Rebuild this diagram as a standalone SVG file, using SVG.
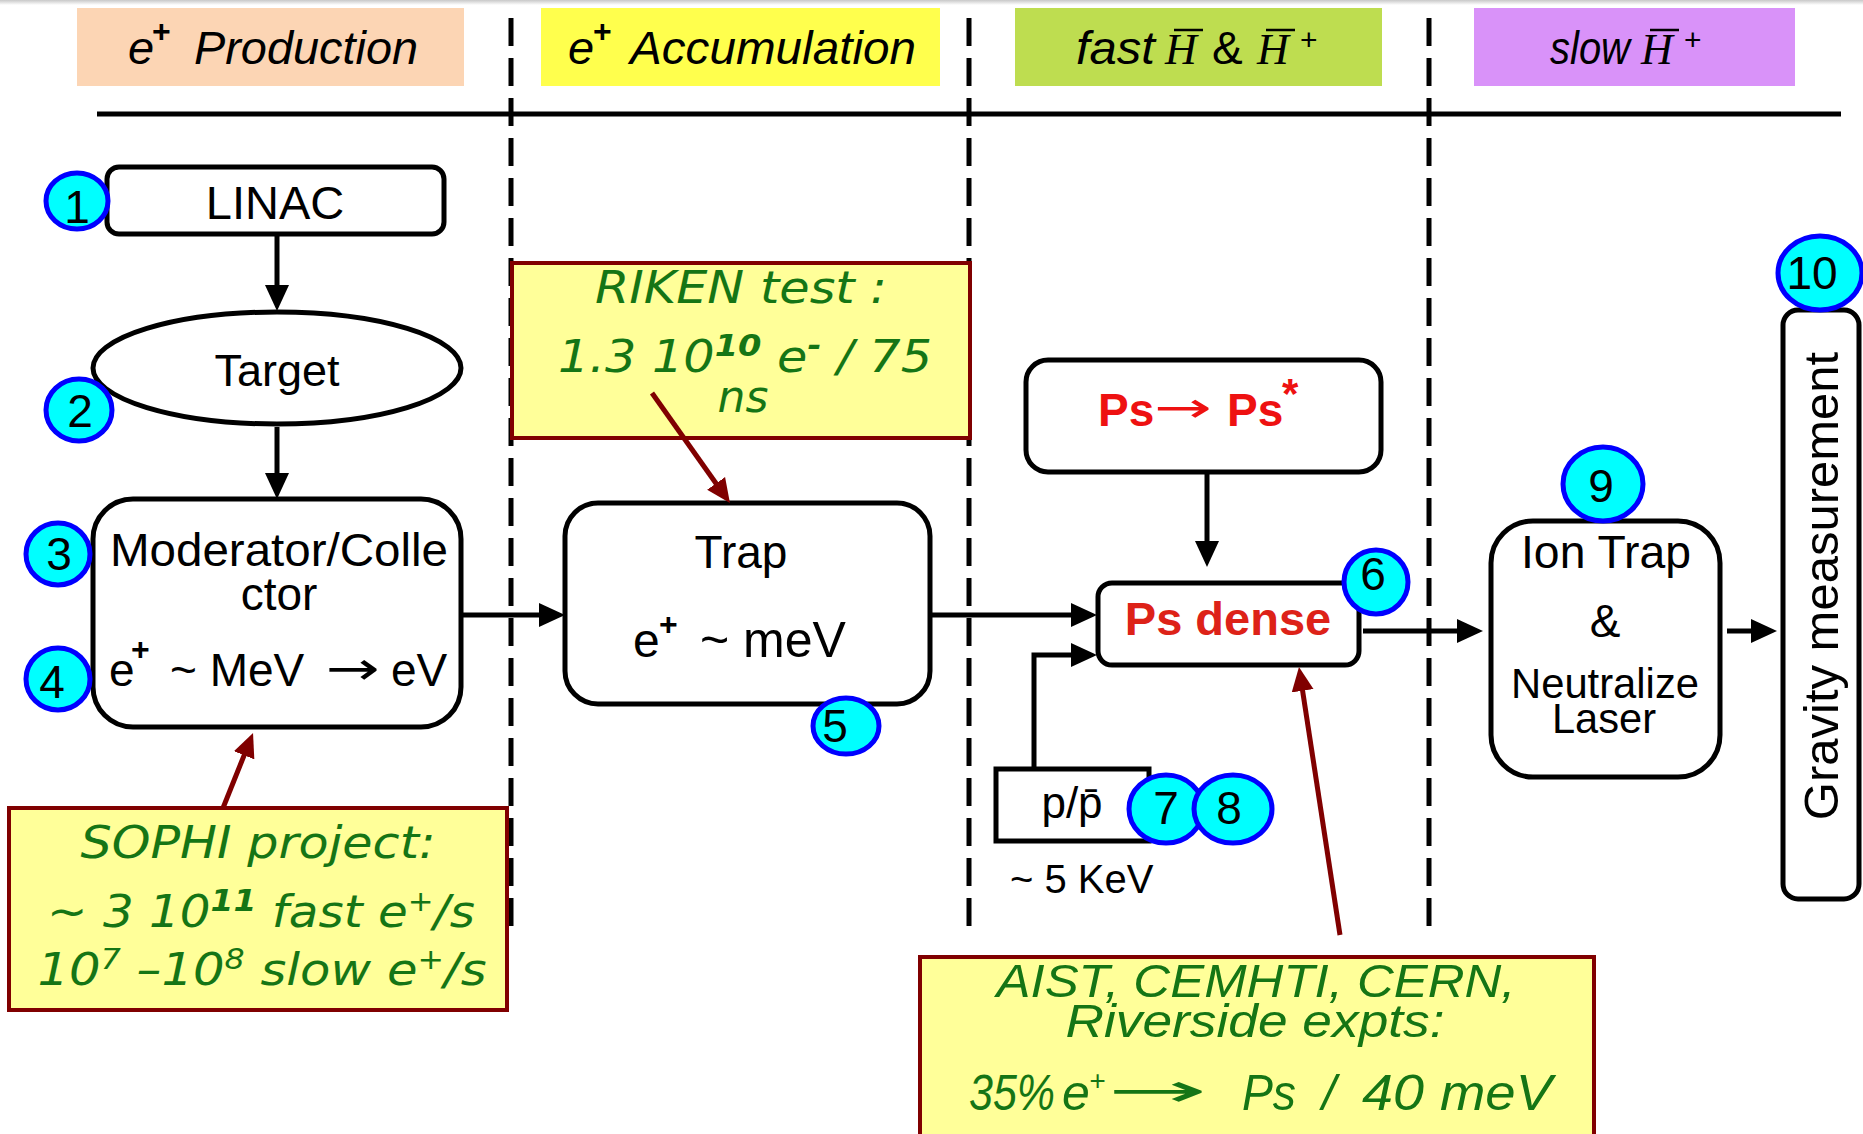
<svg xmlns="http://www.w3.org/2000/svg" width="1863" height="1134" viewBox="0 0 1863 1134">
<style>
  text { font-family: "Liberation Sans", Arial, sans-serif; fill: #000; }
  .box { fill: #fff; stroke: #000; stroke-width: 5; }
  .note { fill: #FFFF99; stroke: #800000; stroke-width: 4; }
  .badge { fill: #00FFFF; stroke: #0000FF; stroke-width: 5; }
  .num { text-anchor: middle; }
  .lbl { text-anchor: middle; }
  .hdr { font-style: italic; }
  .serif { font-family: "Liberation Serif", "Times New Roman", serif; font-style: italic; }
  .green { fill: #157515; font-family: "DejaVu Sans", Verdana, sans-serif; font-style: oblique; text-anchor: middle; }
  .greenA { fill: #157515; font-style: italic; }
  .red { fill: #EE1111; font-weight: bold; }
  .arrow { font-family: "DejaVu Sans", sans-serif; font-style: normal; font-weight: normal; }
  .conn { stroke: #000; stroke-width: 5; fill: none; }
  .rconn { stroke: #800000; stroke-width: 5; fill: none; }
  .dash { stroke: #000; stroke-width: 5; stroke-dasharray: 28 12; }
  .sup { font-weight: bold; }
</style>
<defs>
  <marker id="ah" markerUnits="userSpaceOnUse" markerWidth="26" markerHeight="24" viewBox="0 0 26 24" refX="4" refY="12" orient="auto">
    <path d="M0,0 L26,12 L0,24 z" fill="#000"/>
  </marker>
  <marker id="ahr" markerUnits="userSpaceOnUse" markerWidth="24" markerHeight="24" viewBox="0 0 24 24" refX="4" refY="12" orient="auto">
    <path d="M0,1 L24,12 L0,23 z" fill="#800000"/>
  </marker>
  <linearGradient id="topg" x1="0" y1="0" x2="0" y2="1">
    <stop offset="0" stop-color="#c8c8c8"/>
    <stop offset="1" stop-color="#ffffff"/>
  </linearGradient>
</defs>
<rect x="0" y="0" width="1863" height="1134" fill="#fff"/>
<rect x="0" y="0" width="1863" height="5" fill="url(#topg)"/>

<!-- header -->
<g id="headers">
  <rect x="77" y="8" width="387" height="78" fill="#FCD5B4"/>
  <rect x="541" y="8" width="399" height="78" fill="#FFFF4D"/>
  <rect x="1015" y="8" width="367" height="78" fill="#BEDD50"/>
  <rect x="1474" y="8" width="321" height="78" fill="#D992F9"/>
  <text class="hdr" x="128" y="64" font-size="47">e</text>
  <text class="sup" x="152" y="42" font-size="32">+</text>
  <text class="hdr" x="194" y="64" font-size="47" textLength="224" lengthAdjust="spacingAndGlyphs">Production</text>
  <text class="hdr" x="568" y="64" font-size="47">e</text>
  <text class="sup" x="593" y="42" font-size="32">+</text>
  <text class="hdr" x="630" y="64" font-size="47" textLength="286" lengthAdjust="spacingAndGlyphs">Accumulation</text>
  <text class="hdr" x="1076" y="64" font-size="47" textLength="79" lengthAdjust="spacingAndGlyphs">fast</text>
  <text class="serif" x="1165" y="64" font-size="44">H</text>
  <text x="1212" y="64" font-size="46">&amp;</text>
  <text class="serif" x="1257" y="64" font-size="44">H</text>
  <text x="1300" y="50" font-size="30">+</text>
  <text class="hdr" x="1550" y="64" font-size="47" textLength="80" lengthAdjust="spacingAndGlyphs">slow</text>
  <text class="serif" x="1641" y="64" font-size="44">H</text>
  <text x="1684" y="50" font-size="30">+</text>
  <g stroke="#000" stroke-width="2.5">
    <line x1="1174" y1="30" x2="1203" y2="30"/>
    <line x1="1266" y1="30" x2="1295" y2="30"/>
    <line x1="1650" y1="30" x2="1679" y2="30"/>
  </g>
  <line x1="97" y1="114" x2="1841" y2="114" stroke="#000" stroke-width="5"/>
</g>

<g id="separators">
  <line class="dash" x1="511" y1="18" x2="511" y2="927"/>
  <line class="dash" x1="969" y1="18" x2="969" y2="927"/>
  <line class="dash" x1="1429" y1="18" x2="1429" y2="927"/>
</g>

<g id="linac">
  <rect class="box" x="107" y="167" width="337" height="67" rx="12"/>
  <text class="lbl" x="275" y="219" font-size="47">LINAC</text>
</g>
<g id="target">
  <ellipse class="box" cx="277" cy="368" rx="184" ry="56"/>
  <text class="lbl" x="277" y="386" font-size="45">Target</text>
</g>
<g id="moderator">
  <rect class="box" x="93" y="499" width="368" height="228" rx="40"/>
  <text class="lbl" x="279" y="566" font-size="46" textLength="338" lengthAdjust="spacingAndGlyphs">Moderator/Colle</text>
  <text class="lbl" x="279" y="610" font-size="46">ctor</text>
  <text x="109" y="686" font-size="46">e</text>
  <text class="sup" x="131" y="660" font-size="32">+</text>
  <text x="170" y="686" font-size="46">~ MeV</text>
  <text class="arrow" x="326" y="684" font-size="46" textLength="54" lengthAdjust="spacingAndGlyphs">→</text>
  <text x="391" y="686" font-size="46">eV</text>
</g>
<g id="trap">
  <rect class="box" x="565" y="503" width="365" height="201" rx="33"/>
  <text class="lbl" x="741" y="568" font-size="46">Trap</text>
  <text x="633" y="657" font-size="48">e</text>
  <text class="sup" x="659" y="635" font-size="32">+</text>
  <text x="700" y="657" font-size="50">~ meV</text>
</g>
<g id="ps-excite">
  <rect class="box" x="1026" y="360" width="355" height="112" rx="22"/>
  <text class="red" x="1098" y="426" font-size="46">Ps</text>
  <text class="arrow" x="1154" y="422" font-size="42" style="fill:#EE1111" textLength="58" lengthAdjust="spacingAndGlyphs">→</text>
  <text class="red" x="1227" y="426" font-size="46">Ps</text>
  <text class="red" x="1282" y="408" font-size="42">*</text>
</g>
<g id="ps-dense">
  <rect class="box" x="1098" y="583" width="261" height="82" rx="14"/>
  <text class="lbl red" x="1228" y="635" font-size="47" style="fill:#DD2218">Ps dense</text>
</g>
<g id="pbar">
  <rect x="996" y="769" width="153" height="72" fill="#fff" stroke="#000" stroke-width="5"/>
  <text class="lbl" x="1072" y="818" font-size="44">p/p̄</text>
  <text x="1010" y="893" font-size="40">~ 5 KeV</text>
</g>
<g id="iontrap">
  <rect class="box" x="1491" y="521" width="229" height="256" rx="42"/>
  <text class="lbl" x="1606" y="568" font-size="46" textLength="170" lengthAdjust="spacingAndGlyphs">Ion Trap</text>
  <text class="lbl" x="1605" y="637" font-size="46">&amp;</text>
  <text class="lbl" x="1605" y="698" font-size="42" textLength="188" lengthAdjust="spacingAndGlyphs">Neutralize</text>
  <text class="lbl" x="1604" y="733" font-size="42" textLength="104" lengthAdjust="spacingAndGlyphs">Laser</text>
</g>
<g id="gravity">
  <rect class="box" x="1783" y="310" width="76" height="589" rx="15"/>
  <text class="lbl" transform="translate(1838,586) rotate(-90)" x="0" y="0" font-size="49">Gravity measurement</text>
</g>

<g id="note-sophi">
  <rect class="note" x="9" y="808" width="498" height="202"/>
  <text class="green" x="258" y="858" font-size="44" textLength="355" lengthAdjust="spacingAndGlyphs">SOPHI project:</text>
  <text class="green" x="261" y="927" font-size="44" textLength="428" lengthAdjust="spacingAndGlyphs">~ 3 10<tspan class="sup" font-size="30" dy="-16">11</tspan><tspan dy="16"> fast e</tspan><tspan font-size="28" dy="-16">+</tspan><tspan dy="16">/s</tspan></text>
  <text class="green" x="262" y="985" font-size="44" textLength="449" lengthAdjust="spacingAndGlyphs">10<tspan font-size="28" dy="-16">7</tspan><tspan dy="16"> –10</tspan><tspan font-size="28" dy="-16">8</tspan><tspan dy="16"> slow e</tspan><tspan font-size="28" dy="-16">+</tspan><tspan dy="16">/s</tspan></text>
</g>
<g id="note-riken">
  <rect class="note" x="512" y="263" width="458" height="175"/>
  <text class="green" x="741" y="303" font-size="44" textLength="292" lengthAdjust="spacingAndGlyphs">RIKEN test :</text>
  <text class="green" x="745" y="372" font-size="44" textLength="374" lengthAdjust="spacingAndGlyphs">1.3 10<tspan class="sup" font-size="30" dy="-16">10</tspan><tspan dy="16"> e</tspan><tspan class="sup" font-size="30" dy="-16">-</tspan><tspan dy="16"> / 75</tspan></text>
  <text class="green" x="743" y="412" font-size="44">ns</text>
</g>
<g id="note-aist">
  <rect class="note" x="920" y="957" width="674" height="185"/>
  <text class="greenA" x="1256" y="997" font-size="46" text-anchor="middle" textLength="519" lengthAdjust="spacingAndGlyphs">AIST, CEMHTI, CERN,</text>
  <text class="greenA" x="1255" y="1037" font-size="46" text-anchor="middle" textLength="379" lengthAdjust="spacingAndGlyphs">Riverside expts:</text>
  <text class="greenA" x="969" y="1110" font-size="50" textLength="86" lengthAdjust="spacingAndGlyphs">35%</text>
  <text class="greenA" x="1062" y="1110" font-size="50">e</text>
  <text class="greenA" x="1089" y="1090" font-size="28">+</text>
  <text class="arrow" x="1108" y="1106" font-size="46" style="fill:#157515" textLength="100" lengthAdjust="spacingAndGlyphs">→</text>
  <text class="greenA" x="1242" y="1110" font-size="50" textLength="54" lengthAdjust="spacingAndGlyphs">Ps</text>
  <text class="greenA" x="1322" y="1110" font-size="50">/</text>
  <text class="greenA" x="1362" y="1110" font-size="50" textLength="62" lengthAdjust="spacingAndGlyphs">40</text>
  <text class="greenA" x="1440" y="1110" font-size="50" textLength="112" lengthAdjust="spacingAndGlyphs">meV</text>
</g>

<g id="connectors">
  <line class="conn" x1="277" y1="234" x2="277" y2="289" marker-end="url(#ah)"/>
  <line class="conn" x1="277" y1="427" x2="277" y2="477" marker-end="url(#ah)"/>
  <line class="conn" x1="461" y1="615" x2="543" y2="615" marker-end="url(#ah)"/>
  <line class="conn" x1="930" y1="615" x2="1075" y2="615" marker-end="url(#ah)"/>
  <line class="conn" x1="1207" y1="472" x2="1207" y2="545" marker-end="url(#ah)"/>
  <path class="conn" d="M1034,769 V655 H1075" marker-end="url(#ah)"/>
  <line class="conn" x1="1363" y1="631" x2="1461" y2="631" marker-end="url(#ah)"/>
  <line class="conn" x1="1727" y1="631" x2="1755" y2="631" marker-end="url(#ah)"/>
  <line class="rconn" x1="223" y1="808" x2="245.6" y2="751.6" marker-end="url(#ahr)"/>
  <line class="rconn" x1="652" y1="393" x2="718.4" y2="486.7" marker-end="url(#ahr)"/>
  <line class="rconn" x1="1340" y1="935" x2="1302" y2="686.8" marker-end="url(#ahr)"/>
</g>

<g id="badges">
  <ellipse class="badge" cx="77" cy="201" rx="31" ry="28"/><text class="num" x="77" y="223" font-size="46">1</text>
  <ellipse class="badge" cx="79" cy="410" rx="33" ry="31"/><text class="num" x="80" y="427" font-size="46">2</text>
  <ellipse class="badge" cx="58" cy="554" rx="32" ry="31"/><text class="num" x="59" y="570" font-size="46">3</text>
  <ellipse class="badge" cx="58" cy="679" rx="32" ry="31"/><text class="num" x="52" y="698" font-size="46">4</text>
  <ellipse class="badge" cx="846" cy="726" rx="33" ry="28"/><text class="num" x="835" y="742" font-size="46">5</text>
  <ellipse class="badge" cx="1376" cy="582" rx="32" ry="32"/><text class="num" x="1373" y="590" font-size="46">6</text>
  <ellipse class="badge" cx="1166" cy="809" rx="37" ry="34"/><text class="num" x="1166" y="824" font-size="46">7</text>
  <ellipse class="badge" cx="1233" cy="809" rx="39" ry="34"/><text class="num" x="1229" y="824" font-size="46">8</text>
  <ellipse class="badge" cx="1603" cy="484" rx="40" ry="37"/><text class="num" x="1601" y="502" font-size="46">9</text>
  <ellipse class="badge" cx="1820" cy="273" rx="42" ry="37"/><text class="num" x="1812" y="289" font-size="46">10</text>
</g>
</svg>
